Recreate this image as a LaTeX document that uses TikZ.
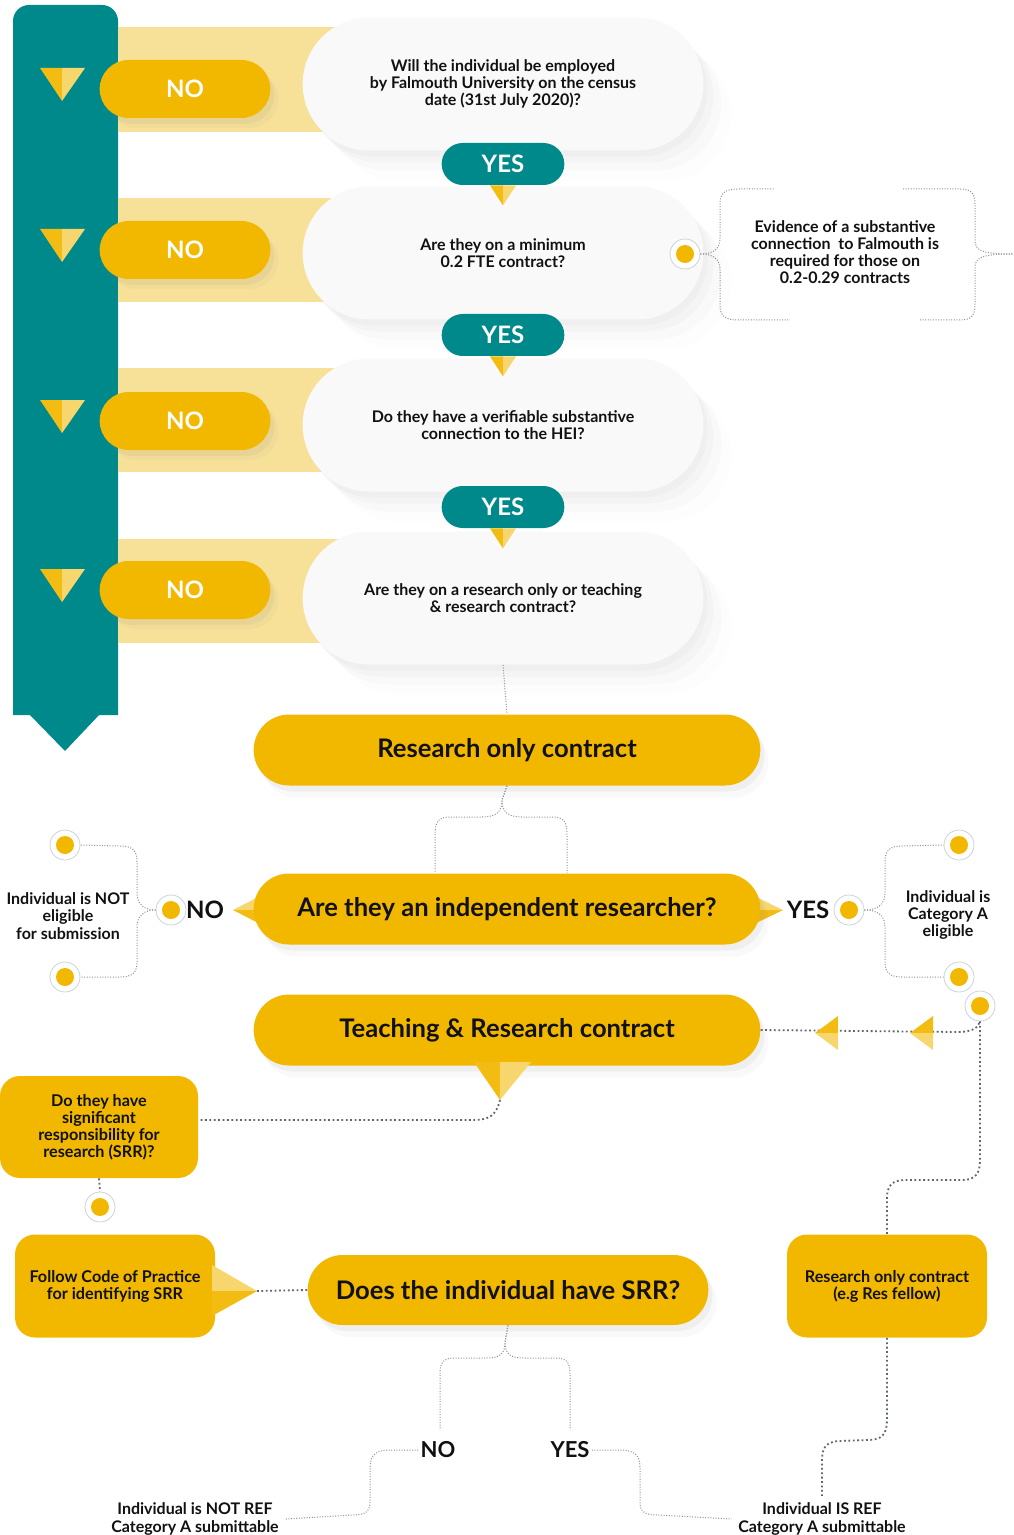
\documentclass[tikz,border=0pt]{standalone}
\usepackage{fontspec}
\setmainfont{Lato}
\usetikzlibrary{shapes.misc,shadows,calc}
\definecolor{ink}{HTML}{111111}
\definecolor{tealbar}{HTML}{00898A}
\definecolor{gold}{HTML}{F2B800}
\definecolor{golddark}{HTML}{F3BC12}
\definecolor{goldlight}{HTML}{F8D66E}
\definecolor{band}{HTML}{F7E199}
\definecolor{bubblefill}{HTML}{F9F9F9}
\definecolor{ringgray}{HTML}{CDD1D8}
\definecolor{linkgray}{HTML}{8A9098}
\definecolor{linkdark}{HTML}{5E6670}

\begin{document}
\begin{tikzpicture}[
  x=0.5pt, y=-0.5pt, text=ink,
  bubble/.style={rounded rectangle, fill=bubblefill, minimum width=207pt, minimum height=66.5pt,
    align=center, font=\bfseries\fontsize{8}{8.5}\selectfont,
    drop shadow={shadow xshift=2pt, shadow yshift=-3pt, opacity=0.05},
    drop shadow={shadow xshift=5pt, shadow yshift=-6pt, opacity=0.04},
    drop shadow={shadow xshift=9pt, shadow yshift=-10pt, opacity=0.03},
    drop shadow={shadow xshift=14pt, shadow yshift=-15pt, opacity=0.02}},
  nopill/.style={rounded rectangle, fill=gold, minimum width=92pt, minimum height=29pt,
    text=white, font=\bfseries\fontsize{12}{12}\selectfont,
    drop shadow={shadow xshift=2pt, shadow yshift=-3pt, opacity=0.08},
    drop shadow={shadow xshift=4pt, shadow yshift=-5pt, opacity=0.05}},
  yespill/.style={rounded rectangle, fill=tealbar, minimum width=68pt, minimum height=21pt,
    text=white, font=\bfseries\fontsize{12}{12}\selectfont},
  bigpill/.style={rounded rectangle, fill=gold, minimum width=260pt, minimum height=35.5pt,
    font=\bfseries\fontsize{12.8}{14}\selectfont,
    drop shadow={shadow xshift=2pt, shadow yshift=-3pt, opacity=0.08},
    drop shadow={shadow xshift=4pt, shadow yshift=-6pt, opacity=0.05}},
  card/.style={rectangle, rounded corners=10pt, fill=gold, minimum width=100pt, minimum height=51.5pt,
    align=center, font=\bfseries\fontsize{8.1}{8.5}\selectfont},
  note/.style={align=center, font=\bfseries\fontsize{8}{8.7}\selectfont},
  answer/.style={font=\bfseries\fontsize{12}{12}\selectfont, inner sep=1pt},
  dotmark/.style={circle, draw=ringgray, line width=0.4pt, fill=white, minimum size=15pt, inner sep=0pt,
    path picture={\fill[gold] (path picture bounding box.center) circle (4.5pt);}},
  link/.style={draw=linkgray, line width=0.5pt, dash pattern=on 0.5pt off 0.8pt},
  linkdark/.style={draw=linkdark, line width=0.9pt, dash pattern=on 0.9pt off 1.3pt},
  tipdark/.style={fill=golddark},
  tiplight/.style={fill=goldlight}
]
\useasboundingbox (0,0) rectangle (1013,1535);

% left column: teal bar with chevron
\fill[tealbar] (13,715) [rounded corners=8pt] -- (13,5) -- (118,5) [sharp corners] -- (118,715) -- cycle;
\fill[tealbar] (29,714) -- (100,714) -- (65,751) -- cycle;

% bands behind the NO pills
\foreach \y/\t/\b in {89/27/132, 250/198/302, 421/368/472, 590/539/643} {
  \fill[band] (118,\t) rectangle (360,\b);
}

% question bubbles
\node[bubble] (q1) at (503,84) {Will the individual be employed\\by Falmouth University on the census\\date (31st July 2020)?};
\node[bubble] (q2) at (503,253) {Are they on a minimum\\0.2 FTE contract?};
\node[bubble] (q3) at (503,425) {Do they have a verifiable substantive\\connection to the HEI?};
\node[bubble] (q4) at (503,598) {Are they on a research only or teaching\\\& research contract?};

% NO pills and markers
\foreach \i/\y in {1/89, 2/250, 3/421, 4/590} {
  \node[nopill] (n\i) at (185,\y) {NO};
  \fill[tipdark] (40,\y-21) -- (62,\y-21) -- (62,\y+12) -- cycle;
  \fill[tiplight] (62,\y-21) -- (85,\y-21) -- (62,\y+12) -- cycle;
}

% YES pills
\foreach \i/\y in {1/164, 2/335, 3/507} {
  \node[yespill] (y\i) at (503,\y) {YES};
  \fill[tipdark] ($(y\i.south)+(-13,0)$) -- (y\i.south) -- ($(y\i.south)+(0,20)$) -- cycle;
  \fill[tiplight] (y\i.south) -- ($(y\i.south)+(13,0)$) -- ($(y\i.south)+(0,20)$) -- cycle;
}

% substantive connection note
\node[dotmark] (evdot) at (685,254) {};
\node[note, font=\bfseries\fontsize{8}{8.4}\selectfont] (ev) at (845,252) {Evidence of a substantive\\connection\ \ to Falmouth is\\required for those on\\0.2-0.29 contracts};
\coordinate (evout) at (1013,254);
\draw[link] (evdot.east) .. controls (712,254) and (720,250) .. (720,238) -- (720,204) .. controls (720,193) and (725,189) .. (738,189) -- (775,189);
\draw[link] (evdot.east) .. controls (712,254) and (720,258) .. (720,270) -- (720,305) .. controls (720,316) and (725,320) .. (738,320) -- (790,320);
\draw[link] (903,189) -- (960,189) .. controls (972,189) and (975,194) .. (975,205) -- (975,240) .. controls (975,250) and (980,254) .. (evout);
\draw[link] (920,320) -- (960,320) .. controls (972,320) and (975,315) .. (975,304) -- (975,268) .. controls (975,258) and (980,254) .. (evout);

% research only contract
\node[bigpill] (ro) at (507,750) {Research only contract};
\draw[link] (q4.south) -- (ro.north);

% independent researcher question with side pointers
\fill[goldlight] (233,910) -- (266,893) -- (266,910) -- cycle;
\fill[golddark] (233,910) -- (266,910) -- (266,927) -- cycle;
\fill[goldlight] (783,910) -- (748,893) -- (748,910) -- cycle;
\fill[golddark] (783,910) -- (748,910) -- (748,927) -- cycle;
\node[bigpill] (ind) at (507,909) {Are they an independent researcher?};
\draw[link] (ro.south) -- (502,800) .. controls (502,812) and (496,817) .. (482,817) -- (450,817) .. controls (438,817) and (435,822) .. (435,835) -- (435,873);
\draw[link] (ro.south) -- (502,800) .. controls (502,812) and (508,817) .. (522,817) -- (552,817) .. controls (564,817) and (567,822) .. (567,835) -- (567,873);

% NO branch
\node[answer] (ino) at (205,910) {NO};
\node[dotmark] (inodot) at (171,910) {};
\node[dotmark] (nt) at (65,845) {};
\node[dotmark] (nb) at (65,977) {};
\node[note] (notelig) at (68,916) {Individual is NOT\\eligible\\for submission};
\draw[link] (inodot.west) .. controls (145,910) and (137,905) .. (137,893) -- (137,862) .. controls (137,850) and (132,846) .. (120,846) -- (nt.east);
\draw[link] (inodot.west) .. controls (145,910) and (137,915) .. (137,927) -- (137,962) .. controls (137,973) and (132,977) .. (120,977) -- (nb.east);

% YES branch
\node[answer] (iyes) at (808,910) {YES};
\node[dotmark] (iyesdot) at (849,910) {};
\node[dotmark] (yt) at (959,845) {};
\node[dotmark] (yb) at (959,977) {};
\node[note] (cata) at (948,915) {Individual is\\Category A\\eligible};
\draw[link] (iyesdot.east) .. controls (877,910) and (885,905) .. (885,893) -- (885,862) .. controls (885,850) and (890,846) .. (902,846) -- (yt.west);
\draw[link] (iyesdot.east) .. controls (877,910) and (885,915) .. (885,927) -- (885,962) .. controls (885,973) and (890,977) .. (902,977) -- (yb.west);

% teaching and research contract
\node[bigpill] (tr) at (507,1030) {Teaching \& Research contract};
\coordinate (trtip) at (500,1100);
\fill[golddark] (474,1062) -- (500,1062) -- (trtip) -- cycle;
\fill[goldlight] (500,1062) -- (531,1062) -- (trtip) -- cycle;

% route back from research only contract
\node[dotmark] (rdot) at (980,1006) {};
\draw[linkdark] (tr.east) -- (958,1032) .. controls (972,1032) and (978,1028) .. (rdot.south);
\foreach \x in {815,910} {
  \fill[golddark] (\x,1033) -- (\x+23,1016) -- (\x+23,1033) -- cycle;
  \fill[goldlight] (\x,1033) -- (\x+23,1033) -- (\x+23,1050) -- cycle;
}
\node[card] (rf) at (887,1286) {Research only contract\\(e.g Res fellow)};
\draw[linkdark] (rdot.south) -- (980,1160) .. controls (980,1174) and (975,1180) .. (962,1180) -- (905,1180) .. controls (892,1180) and (887,1186) .. (887,1198) -- (rf.north);

% SRR question
\node[card, minimum width=99pt, minimum height=51pt] (srr) at (99,1127) {Do they have\\significant\\responsibility for\\research (SRR)?};
\draw[linkdark] (trtip) .. controls (496,1116) and (489,1120) .. (472,1120) -- ($(srr.east)+(2,-7)$);
\node[dotmark] (srrdot) at (100,1207) {};
\draw[linkdark] (srr.south) -- (srrdot.north);

% code of practice
\node[card] (code) at (115,1286) {Follow Code of Practice\\for identifying SRR};
\coordinate (codetip) at (257,1291);
\fill[goldlight] (212,1265) -- (codetip) -- (212,1291) -- cycle;
\fill[golddark] (212,1291) -- (codetip) -- (212,1316) -- cycle;
\node[bigpill, minimum width=207pt, minimum height=35pt] (sq) at (508,1290) {Does the individual have SRR?};
\draw[linkdark] (codetip) -- (sq.west);

% final outcomes
\node[answer, font=\bfseries\fontsize{11}{11}\selectfont] (bno) at (438,1450) {NO};
\node[answer, font=\bfseries\fontsize{11}{11}\selectfont] (byes) at (570,1450) {YES};
\draw[link] (sq.south) -- (505,1342) .. controls (505,1354) and (500,1358) .. (486,1358) -- (455,1358) .. controls (443,1358) and (440,1362) .. (440,1375) -- (440,1430);
\draw[link] (sq.south) -- (505,1342) .. controls (505,1354) and (510,1358) .. (524,1358) -- (555,1358) .. controls (567,1358) and (570,1362) .. (570,1375) -- (570,1430);
\node[note] (notref) at (195,1519) {Individual is NOT REF\\Category A submittable};
\node[note] (isref) at (822,1519) {Individual IS REF\\Category A submittable};
\draw[link] (bno.west) -- (390,1450) .. controls (376,1450) and (370,1455) .. (370,1468) -- (370,1502) .. controls (370,1512) and (365,1515) .. (352,1515) -- (notref.east);
\draw[link] (byes.east) -- (620,1450) .. controls (634,1450) and (640,1455) .. (640,1468) -- (640,1502) .. controls (640,1512) and (645,1515) .. (658,1515) -- (isref.west);
\draw[linkdark] (rf.south) -- (887,1420) .. controls (887,1434) and (882,1440) .. (868,1440) -- (838,1441) .. controls (826,1442) and (822,1448) .. (822,1460) -- (isref.north);
\end{tikzpicture}
\end{document}
